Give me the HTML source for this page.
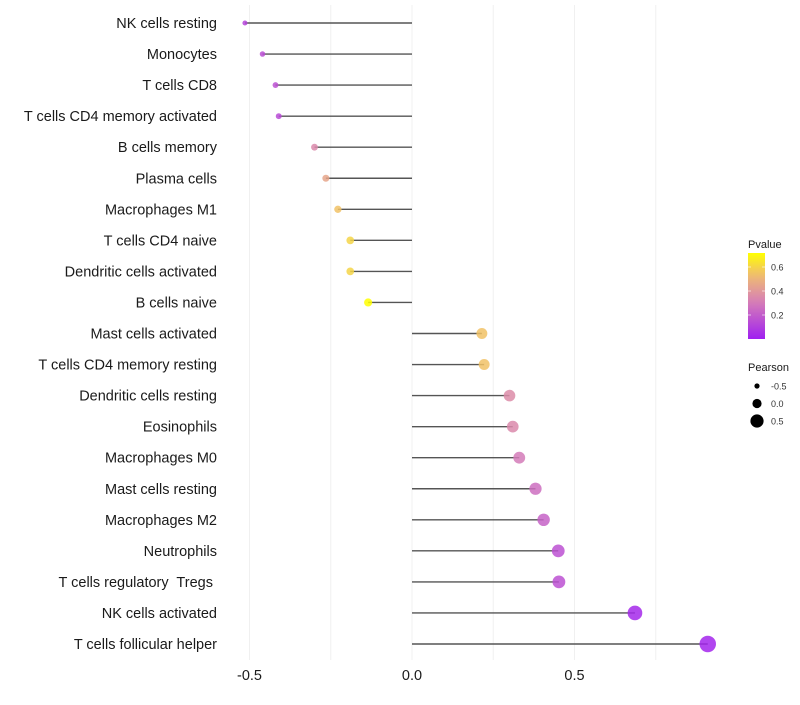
<!DOCTYPE html>
<html><head><meta charset="utf-8"><style>
body{margin:0;background:#fff;font-family:"Liberation Sans",sans-serif}
</style></head><body>
<svg id="chart" width="800" height="700" xmlns="http://www.w3.org/2000/svg"></svg>
<script>
const categories=["NK cells resting","Monocytes","T cells CD8","T cells CD4 memory activated","B cells memory","Plasma cells","Macrophages M1","T cells CD4 naive","Dendritic cells activated","B cells naive","Mast cells activated","T cells CD4 memory resting","Dendritic cells resting","Eosinophils","Macrophages M0","Mast cells resting","Macrophages M2","Neutrophils","T cells regulatory  Tregs ","NK cells activated","T cells follicular helper"];
const pearson=[-0.514,-0.46,-0.42,-0.41,-0.30,-0.265,-0.228,-0.19,-0.19,-0.135,0.215,0.222,0.30,0.31,0.33,0.38,0.405,0.45,0.452,0.686,0.91];
const pvalue=[0.12,0.15,0.16,0.14,0.35,0.45,0.55,0.6,0.6,0.72,0.55,0.55,0.36,0.35,0.3,0.26,0.22,0.16,0.16,0.03,0.02];
const xTicks=[-0.5,0.0,0.5];
const cbTicks=[0.2,0.4,0.6];
const sizeTicks=[-0.5,0.0,0.5];
const svg=document.getElementById('chart');
const NS='http://www.w3.org/2000/svg';
const x=v=>412+v*325;
const y=i=>23+i*31.05;
const r=v=>4.6+4*v;
const cy=p=>339-p*120;
function col(p){
  let t=Math.max(0,Math.min(1,p/0.717));
  const s=[[0,[160,32,240]],[0.45,[216,130,180]],[0.75,[240,190,110]],[1,[255,255,0]]];
  for(let k=0;k<s.length-1;k++){if(t<=s[k+1][0]){const f=(t-s[k][0])/(s[k+1][0]-s[k][0]);const a=s[k][1],b=s[k+1][1];return `rgb(${a.map((c,j)=>Math.round(c+(b[j]-c)*f)).join(',')})`;}}
  return 'rgb(255,255,0)';
}
function el(tag,attrs,txt){const e=document.createElementNS(NS,tag);for(const k in attrs)e.setAttribute(k,attrs[k]);if(txt!==undefined)e.textContent=txt;svg.appendChild(e);return e;}
// grid
for(let v=-0.5;v<=0.76;v+=0.25){
  const g=el('line',{x1:x(v),x2:x(v),y1:5,y2:660,stroke:'#f0f0f0','stroke-width':1});
  
  
}
categories.forEach((c,i)=>{
  const t=el('text',{x:217,y:y(i)+5,'text-anchor':'end','font-size':14.5,fill:'#1a1a1a',style:'white-space:pre'},c);
  
  
  const l=el('line',{x1:x(0),x2:x(pearson[i]),y1:y(i),y2:y(i),stroke:'#555','stroke-width':1.4});
  
  
  const p=el('circle',{cx:x(pearson[i]),cy:y(i),r:r(pearson[i]),fill:col(pvalue[i]),'fill-opacity':0.85});
  
  
});
xTicks.forEach(v=>{
  const t=el('text',{x:x(v),y:680,'text-anchor':'middle','font-size':14.5,fill:'#1a1a1a'},v.toFixed(1));
  
  
});
// colorbar legend
const defs=el('defs',{});
const lg=document.createElementNS(NS,'linearGradient');
lg.setAttribute('id','cb');lg.setAttribute('x1','0');lg.setAttribute('x2','0');lg.setAttribute('y1','1');lg.setAttribute('y2','0');
for(let k=0;k<=10;k++){const s=document.createElementNS(NS,'stop');s.setAttribute('offset',k/10);s.setAttribute('stop-color',col(0.717*k/10));lg.appendChild(s);}
defs.appendChild(lg);
const lt=el('text',{x:748,y:248,'font-size':11,fill:'#1a1a1a'},'Pvalue');


const cb=el('rect',{x:748,y:253,width:17,height:86,fill:'url(#cb)'});


cbTicks.forEach(v=>{
  const t=el('text',{x:771,y:cy(v)+3.5,'font-size':9,fill:'#333'},v.toFixed(1));
  
  
  el('line',{x1:748,x2:751,y1:cy(v),y2:cy(v),stroke:'#fff','stroke-width':0.6});
  el('line',{x1:762,x2:765,y1:cy(v),y2:cy(v),stroke:'#fff','stroke-width':0.6});
});
const st=el('text',{x:748,y:371,'font-size':11,fill:'#1a1a1a'},'Pearson');


sizeTicks.forEach((v,k)=>{
  const yy=386+k*17.5;
  const c=el('circle',{cx:757,cy:yy,r:r(v),fill:'#000'});
  
  
  const t=el('text',{x:771,y:yy+3.5,'font-size':9,fill:'#333'},v.toFixed(1));
  
  
});
</script>
</body></html>
